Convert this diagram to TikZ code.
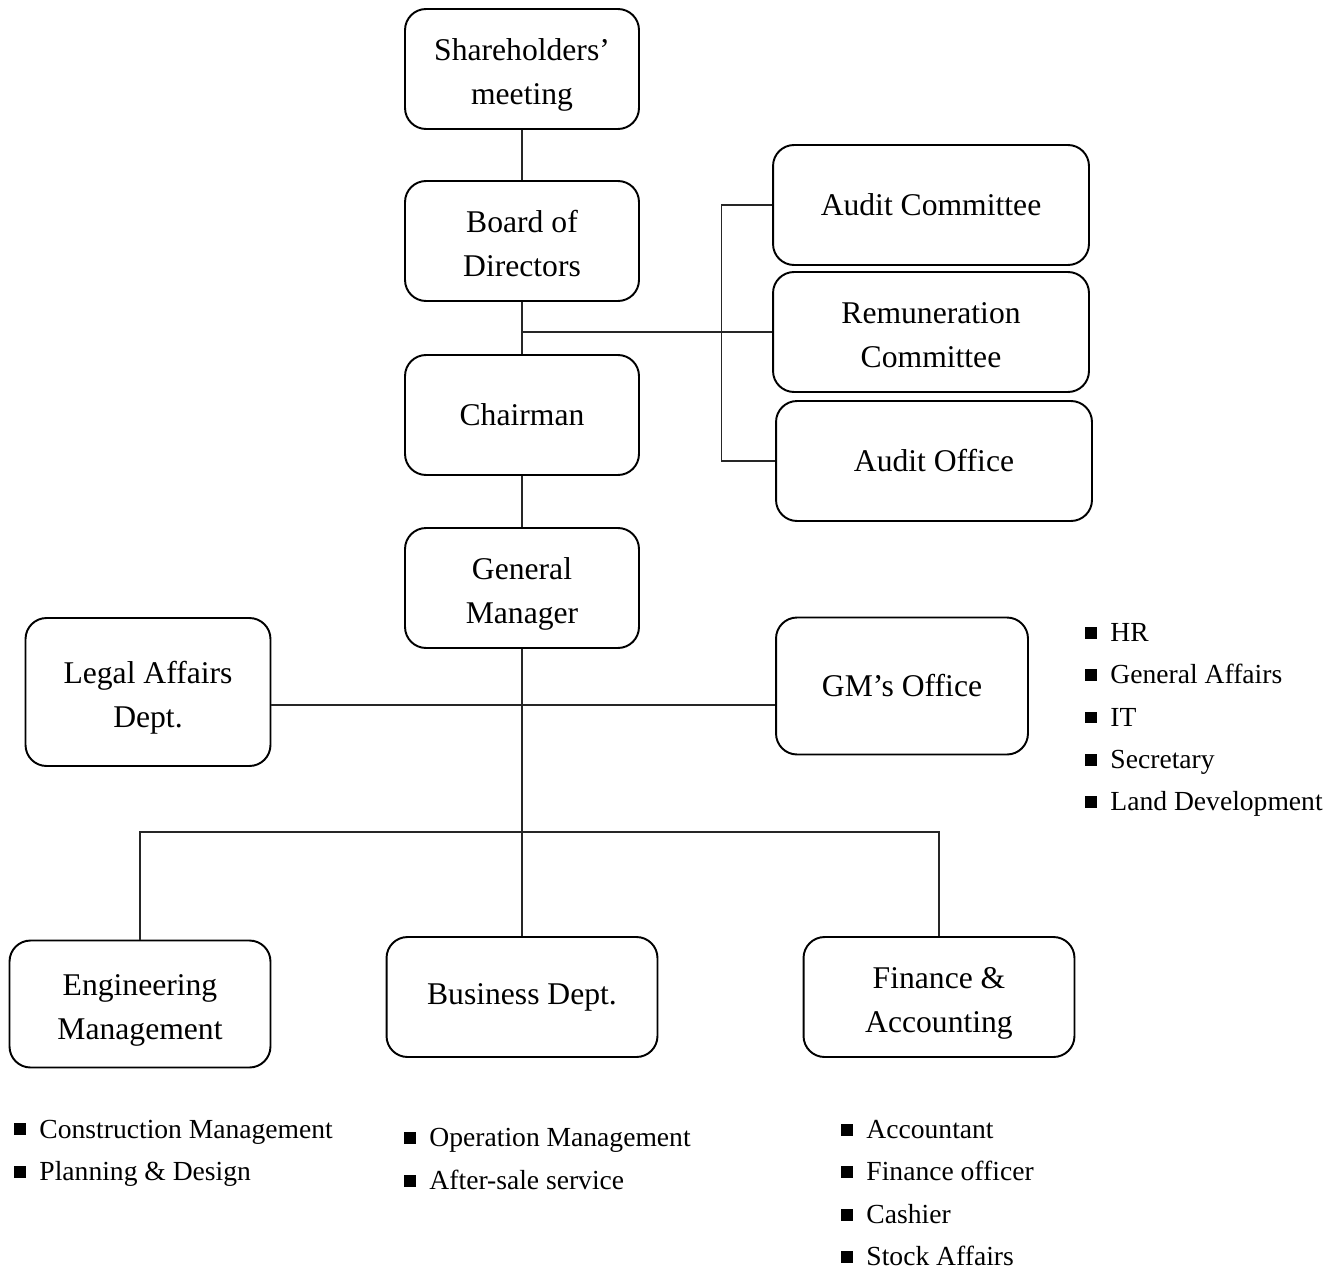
\documentclass[tikz,border=0pt]{standalone}
\usepackage{fontspec}
\setmainfont{Liberation Serif}
\usetikzlibrary{positioning, math}
\newcommand{\sqitem}[1]{\raisebox{1.5pt}{\rule{6.8pt}{6.8pt}}\hspace{7.5pt}#1}
\tikzset{
 orgbox/.style={draw, line width=1.1pt, rounded corners=0.42cm, align=center, inner sep=0pt, font=\fontsize{18}{25}\selectfont},
 twoline/.style={text height=40pt, text depth=0pt},
 orglink/.style={line width=0.6pt, color=black!85},
 sublist/.style={anchor=west, align=left, inner sep=0pt, font=\fontsize{15.7}{24.1}\selectfont},
}

\begin{document}
\begin{tikzpicture}[x=0.02cm, y=-0.02cm]
\useasboundingbox (0,0) rectangle (1344,1267);

%main column:
 \node[orgbox, twoline, minimum width=4.68cm, minimum height=2.4cm] (share) at (522,69) {Shareholders'\\meeting};
 \node[orgbox, twoline, minimum width=4.68cm, minimum height=2.4cm] (board) at (522,241) {Board of\\Directors};
 \node[orgbox, minimum width=4.68cm, minimum height=2.4cm] (chair) at (522,415) {Chairman};
 \node[orgbox, twoline, minimum width=4.68cm, minimum height=2.4cm] (gm) at (522,588) {General\\Manager};
%committees
 \node[orgbox, minimum width=6.32cm, minimum height=2.4cm] (audit) at (931,205) {Audit Committee};
 \node[orgbox, twoline, minimum width=6.32cm, minimum height=2.4cm] (remu) at (931,332) {Remuneration\\Committee};
 \node[orgbox, minimum width=6.32cm, minimum height=2.4cm] (office) at (934,461) {Audit Office};
%staff units
 \node[orgbox, twoline, minimum width=4.9cm, minimum height=2.96cm] (legal) at (148,692) {Legal Affairs\\Dept.};
 \node[orgbox, minimum width=5.04cm, minimum height=2.74cm] (gmo) at (902,686) {GM's Office};
%departments
 \node[orgbox, twoline, minimum width=5.22cm, minimum height=2.54cm] (eng) at (140,1004) {Engineering\\Management};
 \node[orgbox, minimum width=5.42cm, minimum height=2.4cm] (biz) at (522,997) {Business Dept.};
 \node[orgbox, twoline, minimum width=5.42cm, minimum height=2.4cm] (fin) at (939,997) {Finance \&\\Accounting};

%sub-units
 \node[sublist] (gmolist) at (1085,720) {\sqitem{HR}\\\sqitem{General Affairs}\\\sqitem{IT}\\\sqitem{Secretary}\\\sqitem{Land Development}};
 \node[sublist] (englist) at (14,1153) {\sqitem{Construction Management}\\\sqitem{Planning \& Design}};
 \node[sublist] (bizlist) at (404,1159) {\sqitem{Operation Management}\\\sqitem{After-sale service}};
 \node[sublist] (finlist) at (841,1193) {\sqitem{Accountant}\\\sqitem{Finance officer}\\\sqitem{Cashier}\\\sqitem{Stock Affairs}};

%links
 \coordinate (staffbus) at (522,705);
 \coordinate (deptbus) at (522,832);
 \draw[orglink] (share) -- (board);
 \draw[orglink] (board) -- (chair);
 \draw[orglink] (chair) -- (gm);
 \draw[orglink] (gm) -- (biz);
 \draw[orglink] (remu.west) -- (remu.west -| board.south);
 \draw[orglink] (audit.west) -- ++(-51,0) |- (office.west);
 \draw[orglink] (legal.east |- staffbus) -- (gmo.west |- staffbus);
 \draw[orglink] (eng.north) -- (eng.north |- deptbus) -- (fin.north |- deptbus) -- (fin.north);
\end{tikzpicture}
\end{document}
